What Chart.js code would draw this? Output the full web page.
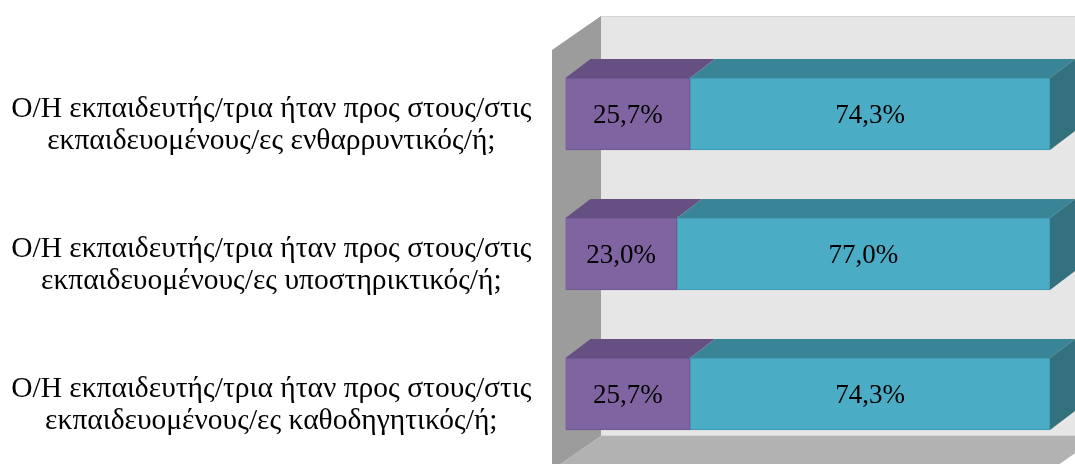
<!DOCTYPE html>
<html>
<head>
<meta charset="utf-8">
<script src="https://cdn.jsdelivr.net/npm/chart.js@4.4.0/dist/chart.umd.min.js"></script>
<style>
  html, body { margin: 0; padding: 0; background: #ffffff; }
  #wrap { width: 1075px; height: 464px; position: relative; }
</style>
</head>
<body>
<div id="wrap"><canvas id="c"></canvas></div>
<script>
// Question labels (two lines each)
const categories = [
  ['Ο/Η εκπαιδευτής/τρια ήταν προς στους/στις', 'εκπαιδευομένους/ες ενθαρρυντικός/ή;'],
  ['Ο/Η εκπαιδευτής/τρια ήταν προς στους/στις', 'εκπαιδευομένους/ες υποστηρικτικός/ή;'],
  ['Ο/Η εκπαιδευτής/τρια ήταν προς στους/στις', 'εκπαιδευομένους/ες καθοδηγητικός/ή;']
];
// Percentage shares per answer
const seriesA = [25.7, 23.0, 25.7];
const seriesB = [74.3, 77.0, 74.3];
const seriesNames = ['Σειρά 1', 'Σειρά 2'];

// Face colours for the extruded bars: [front, top, side]
const faceColors = [
  ['#8064a2', '#664f82', '#56426e'],
  ['#4bacc6', '#398597', '#33717f']
];

const fmt = v => v.toFixed(1).replace('.', ',') + '%';

// Draws the box walls, floor and the extruded faces of each bar
const box3d = {
  id: 'box3d',
  beforeDatasetsDraw(chart) {
    const { ctx, chartArea: a, width } = chart;
    const wdx = 49, wdy = 34;
    const fx = a.left - 13.5, bx = fx + wdx;
    const backTop = a.top - 28, floorBack = a.bottom - 28;
    ctx.save();
    // back wall
    ctx.fillStyle = '#e6e6e6';
    ctx.fillRect(bx, backTop, width - bx, floorBack - backTop);
    ctx.strokeStyle = '#d4d4d4';
    ctx.lineWidth = 1;
    ctx.beginPath();
    ctx.moveTo(bx, backTop + 0.5); ctx.lineTo(width, backTop + 0.5);
    ctx.moveTo(bx, floorBack - 0.5); ctx.lineTo(width, floorBack - 0.5);
    ctx.stroke();
    // floor
    ctx.fillStyle = '#b2b2b2';
    ctx.beginPath();
    ctx.moveTo(bx, floorBack);
    ctx.lineTo(a.right + 50, floorBack);
    ctx.lineTo(a.right + 1, floorBack + wdy);
    ctx.lineTo(fx, floorBack + wdy);
    ctx.closePath();
    ctx.fill();
    // left wall
    ctx.fillStyle = '#9c9c9c';
    ctx.beginPath();
    ctx.moveTo(fx, backTop + wdy);
    ctx.lineTo(bx, backTop);
    ctx.lineTo(bx, floorBack);
    ctx.lineTo(fx, floorBack + wdy);
    ctx.closePath();
    ctx.fill();
    ctx.restore();
  },
  afterDatasetsDraw(chart) {
    const { ctx } = chart;
    const dx = 25, dy = 19;
    const last = chart.data.datasets.length - 1;
    ctx.save();
    chart.data.datasets.forEach((ds, di) => {
      const meta = chart.getDatasetMeta(di);
      meta.data.forEach(el => {
        const p = el.getProps(['x', 'y', 'base', 'height'], true);
        const l = Math.min(p.x, p.base), r = Math.max(p.x, p.base);
        const t = p.y - p.height / 2, b = p.y + p.height / 2;
        ctx.fillStyle = faceColors[di][1];
        ctx.beginPath();
        ctx.moveTo(l, t); ctx.lineTo(l + dx, t - dy);
        ctx.lineTo(r + dx, t - dy); ctx.lineTo(r, t);
        ctx.closePath(); ctx.fill();
        if (di === last) {
          ctx.fillStyle = faceColors[di][2];
          ctx.beginPath();
          ctx.moveTo(r, t); ctx.lineTo(r + dx, t - dy);
          ctx.lineTo(r + dx, b - dy); ctx.lineTo(r, b);
          ctx.closePath(); ctx.fill();
        }
      });
    });
    // value labels on the front faces
    ctx.fillStyle = '#000000';
    ctx.font = '27px "Liberation Serif", "Times New Roman", serif';
    ctx.textAlign = 'center';
    ctx.textBaseline = 'middle';
    chart.data.datasets.forEach((ds, di) => {
      const meta = chart.getDatasetMeta(di);
      meta.data.forEach((el, i) => {
        const p = el.getProps(['x', 'y', 'base'], true);
        ctx.fillText(fmt(ds.data[i]), (p.x + p.base) / 2, p.y + 2);
      });
    });
    ctx.restore();
  }
};

new Chart(document.getElementById('c'), {
  type: 'bar',
  data: {
    labels: categories,
    datasets: [
      { label: seriesNames[0], data: seriesA, backgroundColor: faceColors[0][0], borderColor: '#6f568f', borderWidth: 1, borderSkipped: false },
      { label: seriesNames[1], data: seriesB, backgroundColor: faceColors[1][0], borderColor: '#3f98b0', borderWidth: 1, borderSkipped: false }
    ]
  },
  plugins: [box3d],
  options: {
    indexAxis: 'y',
    responsive: true,
    maintainAspectRatio: false,
    animation: false,
    events: [],
    barThickness: 72,
    layout: { padding: { top: 44, right: 25, bottom: 0, left: 0 } },
    plugins: { legend: { display: false }, tooltip: { enabled: false } },
    scales: {
      x: { stacked: true, min: 0, max: 100, display: false },
      y: {
        stacked: true,
        grid: { display: false },
        border: { display: false },
        afterFit(scale) {
          scale.width = 565.5;
          scale.paddingTop = 0;
          scale.paddingBottom = 0;
        },
        ticks: {
          crossAlign: 'center',
          padding: 26,
          labelOffset: 11,
          color: '#000000',
          font: { family: '"Liberation Serif", "Times New Roman", serif', size: 29.5, lineHeight: '32px' }
        }
      }
    }
  }
});
</script>
</body>
</html>
